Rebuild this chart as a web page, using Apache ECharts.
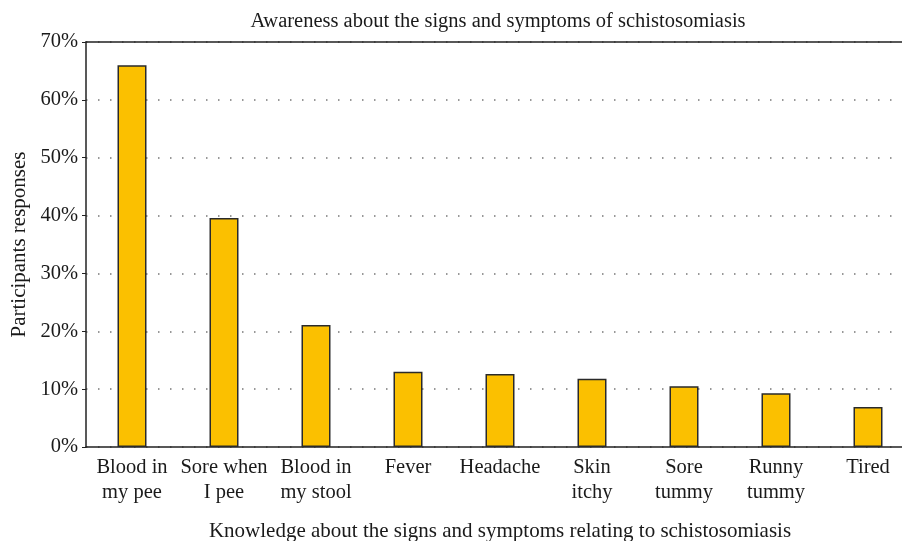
<!DOCTYPE html>
<html>
<head>
<meta charset="utf-8">
<script src="https://cdn.jsdelivr.net/npm/echarts@6/dist/echarts.min.js"></script>
<style>
  html, body { margin: 0; padding: 0; background: #fff; }
  #chart { width: 902px; height: 541px; }
</style>
</head>
<body>
<div id="chart"></div>
<script>
// signs and symptoms (x categories, wrapped on two lines)
const symptoms = [
  'Blood in\nmy pee', 'Sore when\nI pee', 'Blood in\nmy stool', 'Fever', 'Headache',
  'Skin\nitchy', 'Sore\ntummy', 'Runny\ntummy', 'Tired'
]
// share of participants, %
const responses = [66.0, 39.6, 21.1, 13.0, 12.6, 11.8, 10.5, 9.3, 6.9]
const yTicks = [0, 10, 20, 30, 40, 50, 60, 70]

const serif = 'Liberation Serif'
const chart = echarts.init(document.getElementById('chart'))

chart.setOption({
  animation: false,
  textStyle: { fontFamily: serif, color: '#1a1a1a' },
  title: {
    text: 'Awareness about the signs and symptoms of schistosomiasis',
    left: 493,
    textAlign: 'center',
    top: 6,
    textStyle: { fontFamily: serif, fontSize: 20.5, fontWeight: 'normal', color: '#1a1a1a' }
  },
  grid: { left: 86, top: 42, width: 828, height: 405, containLabel: false, outerBoundsMode: 'none' },
  xAxis: [
    {
      type: 'category',
      data: symptoms,
      name: 'Knowledge about the signs and symptoms relating to schistosomiasis',
      nameLocation: 'middle',
      nameGap: 74,
      nameTextStyle: { fontFamily: serif, fontSize: 21, color: '#1a1a1a', padding: [0, 0, 0, 0] },
      axisLine: { lineStyle: { color: '#222', width: 1.5 } },
      axisTick: { show: false },
      axisLabel: { interval: 0, fontFamily: serif, fontSize: 20.5, color: '#1a1a1a', margin: 8, lineHeight: 25 }
    },
    {
      type: 'category',
      position: 'top',
      data: symptoms,
      axisLine: { lineStyle: { color: '#222', width: 1.5 } },
      axisTick: { show: false },
      axisLabel: { show: false }
    }
  ],
  yAxis: {
    type: 'value',
    min: yTicks[0],
    max: yTicks[yTicks.length - 1],
    interval: 10,
    name: 'Participants responses',
    nameLocation: 'middle',
    nameGap: 56,
    nameTextStyle: { fontFamily: serif, fontSize: 21, color: '#1a1a1a' },
    axisLine: { show: true, lineStyle: { color: '#222', width: 1.5 } },
    axisTick: { show: true, length: 4, lineStyle: { color: '#222' } },
    axisLabel: { fontFamily: serif, fontSize: 20.5, color: '#1a1a1a', margin: 8, formatter: '{value}%' },
    splitLine: { show: true, lineStyle: { color: '#777', width: 1.5, type: [1.5, 10.5] } }
  },
  series: [
    {
      type: 'bar',
      data: responses,
      barWidth: 29,
      itemStyle: { color: '#FBC000', borderColor: '#2a2a2a', borderWidth: 1.5 }
    }
  ]
})
</script>
</body>
</html>
